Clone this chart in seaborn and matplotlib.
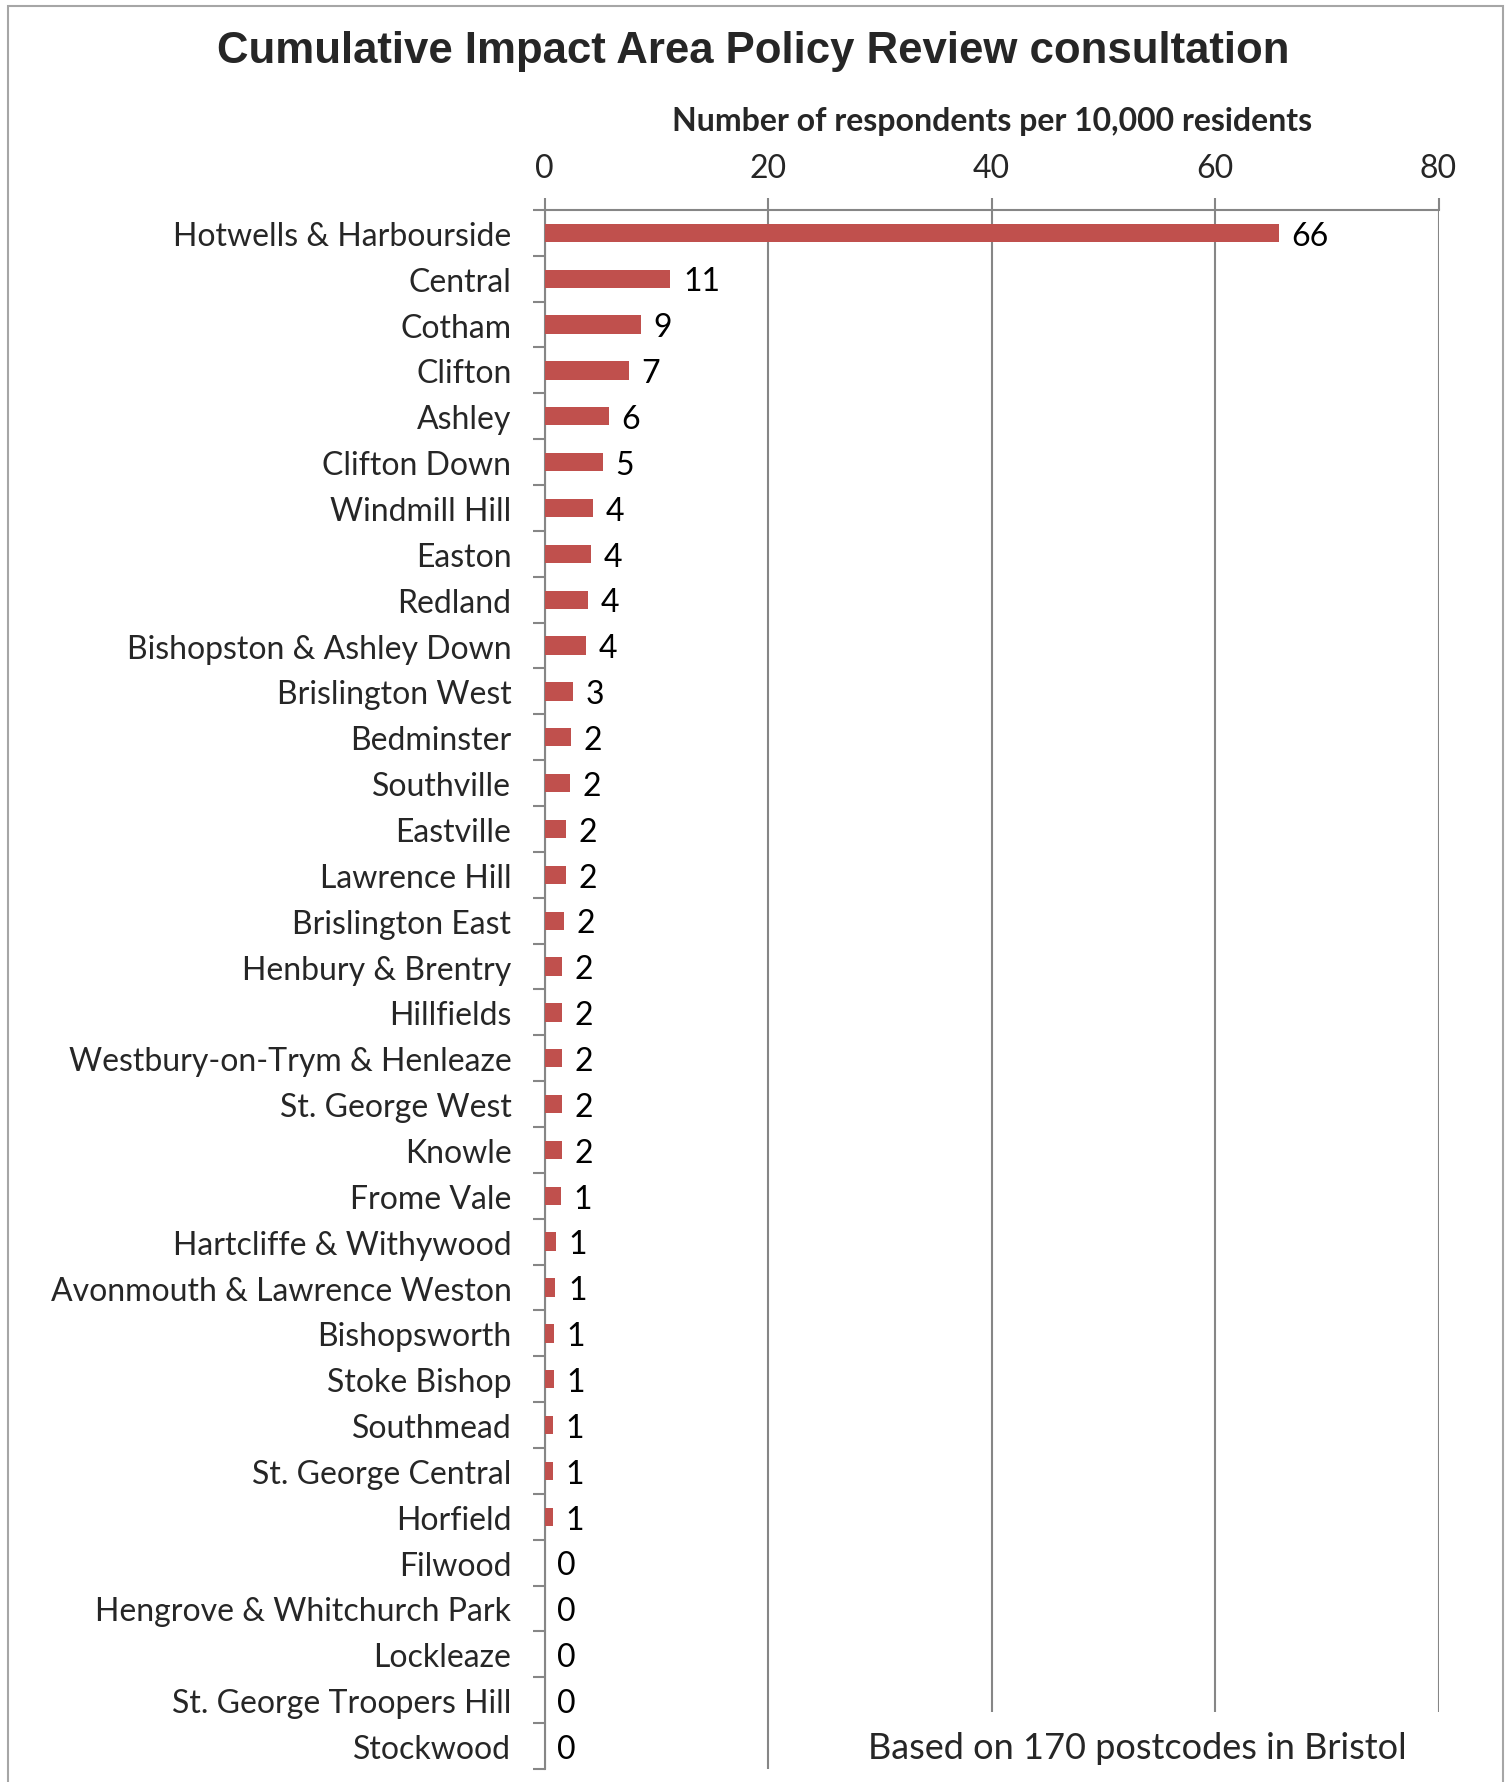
import matplotlib.pyplot as plt
import matplotlib.ticker as ticker
from matplotlib.patches import Rectangle
import seaborn as sns
import pandas as pd

# Wards, sorted the way the chart lists them (top to bottom)
wards = [
    'Hotwells & Harbourside', 'Central', 'Cotham', 'Clifton', 'Ashley',
    'Clifton Down', 'Windmill Hill', 'Easton', 'Redland', 'Bishopston & Ashley Down',
    'Brislington West', 'Bedminster', 'Southville', 'Eastville', 'Lawrence Hill',
    'Brislington East', 'Henbury & Brentry', 'Hillfields', 'Westbury-on-Trym & Henleaze',
    'St. George West', 'Knowle', 'Frome Vale', 'Hartcliffe & Withywood',
    'Avonmouth & Lawrence Weston', 'Bishopsworth', 'Stoke Bishop', 'Southmead',
    'St. George Central', 'Horfield', 'Filwood', 'Hengrove & Whitchurch Park',
    'Lockleaze', 'St. George Troopers Hill', 'Stockwood',
]
# respondents per 10,000 residents (bar lengths)
rate = [
    65.7, 11.25, 8.58, 7.56, 5.76,
    5.22, 4.33, 4.15, 3.85, 3.73,
    2.54, 2.36, 2.24, 1.94, 1.94,
    1.70, 1.52, 1.52, 1.52,
    1.52, 1.52, 1.43, 1.04,
    0.96, 0.84, 0.84, 0.75,
    0.75, 0.75, 0.0, 0.0,
    0.0, 0.0, 0.0,
]
# the rounded labels printed next to each bar
rate_labels = [
    '66', '11', '9', '7', '6', '5', '4', '4', '4', '4',
    '3', '2', '2', '2', '2', '2', '2', '2', '2', '2', '2',
    '1', '1', '1', '1', '1', '1', '1', '1',
    '0', '0', '0', '0', '0',
]
x_ticks = [0, 20, 40, 60, 80]

df = pd.DataFrame({'ward': wards, 'rate': rate})

sns.set_theme(style='white')
plt.rcParams['font.family'] = ['Lato', 'DejaVu Sans']

BAR = '#C0504D'
GRID = '#868686'

fig = plt.figure(figsize=(15.09, 17.83), dpi=100)
ax = fig.add_axes([0.361, 0.0073, 0.5923, 0.8744])

sns.barplot(data=df, x='rate', y='ward', orient='h', color=BAR, width=0.4,
            linewidth=0, saturation=1, ax=ax, zorder=3)

ax.set_xlim(0, 80)
ax.set_ylim(len(wards) - 0.5, -0.5)
ax.set_xticks(x_ticks)
ax.xaxis.tick_top()
ax.xaxis.set_label_position('top')
ax.set_xlabel('Number of respondents per 10,000 residents', fontsize=23,
              fontweight='bold', labelpad=16)
ax.set_ylabel('')

ax.grid(axis='x', color=GRID, linewidth=1.5, zorder=0)
ax.tick_params(axis='x', which='major', length=8.6, width=1.5, color=GRID,
               labelsize=23, pad=11, top=True, bottom=False)

# Excel style: ticks between categories, none at the labels
ax.yaxis.set_minor_locator(ticker.FixedLocator([i + 0.5 for i in range(-1, len(wards))]))
ax.tick_params(axis='y', which='major', length=0, pad=24, labelsize=23)
ax.tick_params(axis='y', which='minor', length=8.6, width=1.5, color=GRID, left=True)

for side in ['right', 'bottom']:
    ax.spines[side].set_visible(False)
for side in ['left', 'top']:
    ax.spines[side].set_color(GRID)
    ax.spines[side].set_linewidth(1.5)

texts = ax.bar_label(ax.containers[0], labels=rate_labels, padding=9,
                     fontsize=23, color='black')
# nudge the value labels down a touch, as in the original
for t in texts:
    t.xyann = (t.xyann[0], t.xyann[1] - 2)

fig.text(0.499, 0.971, 'Cumulative Impact Area Policy Review consultation',
         ha='center', va='center', fontsize=31.5, fontweight='bold',
         family=['Liberation Sans', 'DejaVu Sans'])

# white box under the footnote hides the gridlines behind it
fig.patches.append(Rectangle((830 / 1509, 0), 640 / 1509, 70 / 1783,
                             transform=fig.transFigure, facecolor='white',
                             edgecolor='none', zorder=5))
fig.text(0.7535, 0.0196, 'Based on 170 postcodes in Bristol', ha='center',
         va='center', fontsize=26, zorder=6)

# outer frame of the original image
fig.patches.append(Rectangle((8 / 1509, -0.05), 1495 / 1509, 1.05 - 7 / 1783,
                             transform=fig.transFigure, facecolor='none',
                             edgecolor='#A6A6A6', linewidth=1.5, zorder=7))

fig.savefig('out.png', dpi=100)
print('Saved: out.png')
